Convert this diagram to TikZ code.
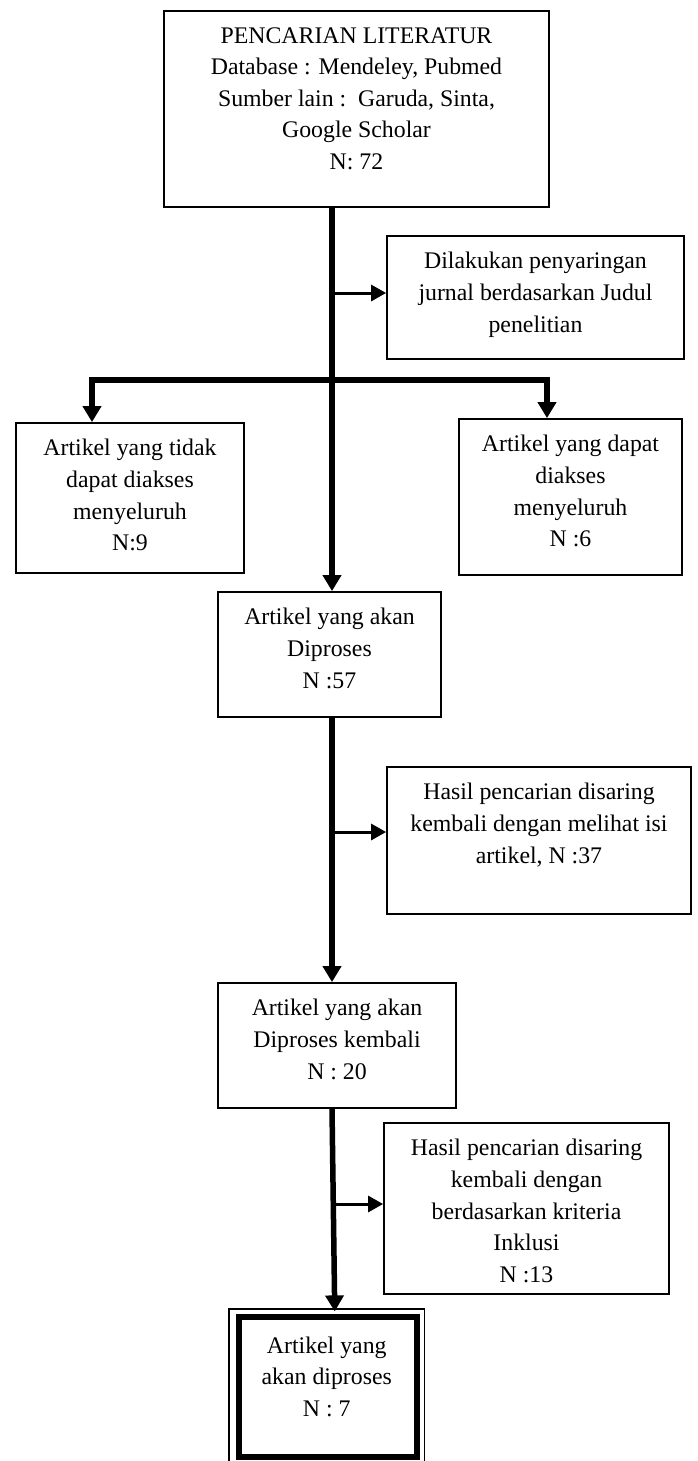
\documentclass[tikz,border=0pt]{standalone}
\usepackage{fontspec}
\setmainfont{Liberation Serif}
\usetikzlibrary{arrows.meta,calc}
\tikzset{
  bigtip/.tip={Triangle[length=16pt,width=18pt]},
  smalltip/.tip={Triangle[length=15pt,width=16pt]},
}
\begin{document}
\begin{tikzpicture}[x=1pt,y=-1pt,
  box/.style={draw, line width=1.8pt, rectangle, inner sep=0pt},
  txt/.style={font=\fontsize{23.8}{31.6}\selectfont, align=center, inner sep=0pt, anchor=north},
  bigline/.style={line width=5.5pt},
  smallline/.style={line width=3pt, -smalltip},
]
\useasboundingbox (0,0) rectangle (697,1461);

% boxes
\node[box, minimum width=385pt, minimum height=196pt] (top) at (356.5,109) {};
\node[box, minimum width=297pt, minimum height=123pt] (dil) at (535.5,297.5) {};
\node[box, minimum width=228pt, minimum height=150pt] (left) at (130,498) {};
\node[box, minimum width=223pt, minimum height=156pt] (right) at (570.5,497) {};
\node[box, minimum width=223pt, minimum height=125pt] (mid) at (329.5,654.5) {};
\node[box, minimum width=304pt, minimum height=147pt] (h1) at (539,840.5) {};
\node[box, minimum width=238pt, minimum height=125pt] (kem) at (337,1045.5) {};
\node[box, minimum width=285pt, minimum height=171pt] (h2) at (526.5,1208.5) {};
\node[draw, line width=1.2pt, inner sep=0pt, minimum width=195.5pt, minimum height=154pt] (finO) at (326.75,1386) {};
\node[draw, line width=6pt, inner sep=0pt, minimum width=178pt, minimum height=140.5pt] (finI) at (327.5,1386.75) {};

% texts
\node[txt] (topT) at ([yshift=-17pt]top.north) {PENCARIAN LITERATUR\\Database : Mendeley, Pubmed\\Sumber lain :\ \ Garuda, Sinta,\\Google Scholar\\N: 72};
\node[txt] (dilT) at ([yshift=-17pt]dil.north) {Dilakukan penyaringan\\jurnal berdasarkan Judul\\penelitian};
\node[txt] (leftT) at ([yshift=-17pt]left.north) {Artikel yang tidak\\dapat diakses\\menyeluruh\\N:9};
\node[txt] (rightT) at ([yshift=-17pt]right.north) {Artikel yang dapat\\diakses\\menyeluruh\\N :6};
\node[txt] (midT) at ([yshift=-17pt]mid.north) {Artikel yang akan\\Diproses\\N :57};
\node[txt] (h1T) at ([yshift=-17pt]h1.north) {Hasil pencarian disaring\\kembali dengan melihat isi\\artikel, N :37};
\node[txt] (kemT) at ([yshift=-17pt]kem.north) {Artikel yang akan\\Diproses kembali\\N : 20};
\node[txt] (h2T) at ([yshift=-17pt]h2.north) {Hasil pencarian disaring\\kembali dengan\\berdasarkan kriteria\\Inklusi\\N :13};
\node[txt] (finT) at ([yshift=-28pt]finO.north) {Artikel yang\\akan diproses\\N : 7};

% main flow
\coordinate (m0) at (332,207);
\draw[bigline, -bigtip] (m0) -- (m0 |- mid.north);
\coordinate (br) at (332,380);
\draw[bigline, bigtip-bigtip] ([xshift=-38pt]left.north) |- (br) -| ([xshift=-23.5pt]right.north);
\draw[bigline, -bigtip] ([xshift=2.5pt]mid.south) -- ([xshift=-5pt]kem.north);
\draw[bigline, -bigtip] ([xshift=-5pt]kem.south) -- ([xshift=8pt,yshift=-3pt]finO.north);

% side arrows
\coordinate (a1) at (332,293);
\draw[smallline] (a1) -- (a1 -| dil.west);
\coordinate (a2) at (332,832);
\draw[smallline] (a2) -- (a2 -| h1.west);
\coordinate (a3) at (333.5,1204);
\draw[smallline] (a3) -- (a3 -| h2.west);
\end{tikzpicture}
\end{document}
